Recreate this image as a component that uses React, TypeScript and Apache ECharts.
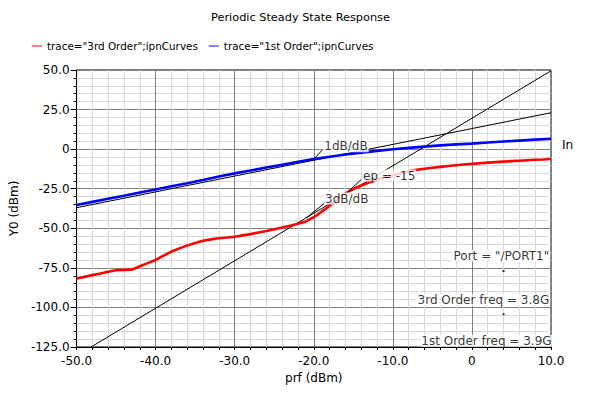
import React, { useEffect, useRef } from 'react';
import * as echarts from 'echarts';

const FONT = '"DejaVu Sans", sans-serif';

const TITLE = 'Periodic Steady State Response';
const X_NAME = 'prf (dBm)';
const Y_NAME = 'Y0 (dBm)';
const RED_NAME = 'trace="3rd Order";ipnCurves';
const BLUE_NAME = 'trace="1st Order";ipnCurves';
const SIDE_LABEL = 'In';

// 3rd order (red) curve
const redX = [
  -50, -49, -48, -47, -46, -45, -44, -43, -42, -41, -40, -39, -38, -37, -36, -35, -34, -33, -32, -31,
  -30, -29, -28, -27, -26, -25, -24, -23, -22, -21, -20, -19, -18, -17, -16, -15, -14, -13, -12, -11,
  -10, -9, -8, -7, -6, -5, -4, -3, -2, -1, 0, 1, 2, 3, 4, 5, 6, 7, 8, 9, 10,
];
const redY = [
  -81.7, -80.7, -79.6, -78.6, -77.5, -76.5, -76.3, -76.1, -74.0, -72.0, -70.0, -67.3, -64.7, -62.7, -60.8, -59.3, -57.9, -57.0, -56.3, -55.8,
  -55.3, -54.5, -53.7, -52.7, -51.7, -50.6, -49.5, -48.4, -47.2, -45.7, -43.0, -39.5, -35.8, -31.8, -28.0, -25.2, -23.0, -21.1, -19.4, -17.9,
  -16.5, -15.2, -14.0, -13.1, -12.4, -11.8, -11.2, -10.7, -10.2, -9.7, -9.3, -8.9, -8.5, -8.2, -7.9, -7.6, -7.3, -7.0, -6.7, -6.5, -6.2,
];

// 1st order (blue) curve
const blueX = [
  -50, -48, -46, -44, -42, -40, -38, -36, -34, -32, -30, -28, -26, -24, -22, -20, -18, -16, -14, -12,
  -10, -8, -6, -4, -2, 0, 2, 4, 6, 8, 10,
];
const blueY = [
  -35.3, -33.3, -31.3, -29.4, -27.4, -25.5, -23.5, -21.6, -19.5, -17.3, -15.3, -13.5, -11.6, -9.8, -8.0, -6.3, -4.8, -3.4, -2.2, -1.1,
  -0.1, 0.8, 1.6, 2.4, 3.0, 3.5, 4.2, 4.8, 5.4, 6.0, 6.6,
];

// extrapolation lines
const oneDbX = [-50, 10];
const oneDbY = [-37, 23];
const threeDbX = [-48.17, 10];
const threeDbY = [-125, 49.5];

// annotation labels and their leader lines
const noteTexts = ['1dB/dB', 'ep = -15', '3dB/dB'];
const noteX = [-18.8, -13.9, -18.7];
const noteY = [1.9, -16.7, -31.2];
const leaderX = [[-20, -18.9], [-15.7, -14.0], [-20.9, -18.6]];
const leaderY = [[-6.4, -0.4], [-27, -19.2], [-43.3, -33.9]];

// marker dots and info texts
const markerX = [4, 4];
const markerY = [-77, -104.3];
const infoTexts = ['Port = "/PORT1"', '3rd Order freq = 3.8G', '1st Order freq = 3.9G'];
const infoX = [9.9, 9.9, 10.2];
const infoY = [-67.4, -95.4, -121];

const zip = (xs: number[], ys: number[]) => xs.map((x, i) => [x, ys[i]]);
const fmt = (v: number) => (v === 0 ? '0' : v.toFixed(1));

export default function App() {
  const ref = useRef<HTMLDivElement>(null);

  useEffect(() => {
    if (!ref.current) return;
    const chart = echarts.init(ref.current, undefined, { renderer: 'svg' });

    const axisCommon = {
      type: 'value' as const,
      nameLocation: 'middle' as const,
      nameTextStyle: { color: '#000', fontSize: 12, fontFamily: FONT },
      axisLine: { show: true, onZero: false, lineStyle: { color: '#000', width: 1 } },
      splitLine: { show: true, lineStyle: { color: '#808080', width: 1 } },
      minorSplitLine: { show: true, lineStyle: { color: '#dadada', width: 1 } },
    };

    const leaderSeries = leaderX.map((lx, i) => ({
      type: 'line',
      data: zip(lx, leaderY[i]),
      symbol: 'none',
      silent: true,
      z: 4,
      lineStyle: { color: '#000', width: 1 },
    }));

    chart.setOption({
      animation: false,
      backgroundColor: '#fff',
      textStyle: { fontFamily: FONT },
      title: {
        text: TITLE,
        left: 'center',
        top: 7,
        textStyle: { fontSize: 11.3, fontWeight: 'normal', color: '#000', fontFamily: FONT },
      },
      legend: {
        left: 27,
        top: 36,
        itemWidth: 10,
        itemHeight: 1,
        itemGap: 11,
        icon: 'rect',
        data: [RED_NAME, BLUE_NAME],
        textStyle: { fontSize: 10.4, color: '#000', fontFamily: FONT },
      },
      grid: {
        left: 73,
        right: 50,
        top: 70,
        bottom: 47,
        show: true,
        borderColor: '#000',
        borderWidth: 1,
        backgroundColor: '#fff',
      },
      xAxis: {
        ...axisCommon,
        min: -50,
        max: 10,
        interval: 10,
        name: X_NAME,
        nameGap: 21,
        axisTick: { show: true, length: 3, lineStyle: { color: '#000' } },
        minorTick: { show: true, splitNumber: 5, length: 3, lineStyle: { color: '#000' } },
        axisLabel: { formatter: fmt, color: '#000', fontSize: 12, margin: 8, fontFamily: FONT },
      },
      yAxis: {
        ...axisCommon,
        min: -125,
        max: 50,
        interval: 25,
        name: Y_NAME,
        nameGap: 42,
        axisTick: { show: true, length: 6, lineStyle: { color: '#000' } },
        minorTick: { show: true, splitNumber: 5, length: 3, lineStyle: { color: '#000' } },
        axisLabel: { formatter: fmt, color: '#000', fontSize: 12, margin: 7, fontFamily: FONT },
      },
      series: [
        {
          type: 'line',
          data: zip(oneDbX, oneDbY),
          symbol: 'none',
          silent: true,
          z: 2,
          lineStyle: { color: '#000', width: 1 },
        },
        {
          type: 'line',
          data: zip(threeDbX, threeDbY),
          symbol: 'none',
          silent: true,
          z: 2,
          lineStyle: { color: '#000', width: 1 },
        },
        {
          name: RED_NAME,
          type: 'line',
          data: zip(redX, redY),
          symbol: 'none',
          z: 3,
          color: '#ff0000',
          lineStyle: { color: '#ff0000', width: 2.6 },
        },
        {
          name: BLUE_NAME,
          type: 'line',
          data: zip(blueX, blueY),
          symbol: 'none',
          z: 3,
          color: '#0000ff',
          lineStyle: { color: '#0000ff', width: 2.6 },
        },
        ...leaderSeries,
        {
          type: 'scatter',
          data: noteTexts.map((t, i) => ({ value: [noteX[i], noteY[i]], name: t })),
          symbolSize: 0,
          silent: true,
          z: 6,
          label: {
            show: true,
            position: 'right',
            distance: 0,
            formatter: (p: any) => p.name,
            color: '#000',
            fontSize: 12,
            fontFamily: FONT,
            backgroundColor: '#fff',
            padding: [0, 1, 0, 1],
          },
        },
        {
          type: 'scatter',
          data: zip(markerX, markerY),
          symbol: 'rect',
          symbolSize: 2,
          silent: true,
          z: 6,
          itemStyle: { color: '#000' },
        },
        {
          type: 'scatter',
          clip: false,
          data: infoTexts.map((t, i) => ({ value: [infoX[i], infoY[i]], name: t })),
          symbolSize: 0,
          silent: true,
          z: 6,
          label: {
            show: true,
            position: 'left',
            distance: 0,
            formatter: (p: any) => p.name,
            color: '#000',
            fontSize: 12,
            fontFamily: FONT,
            backgroundColor: '#fff',
            padding: [0, 1, 0, 1],
          },
        },
      ],
      graphic: [
        {
          type: 'text',
          left: 562,
          top: 139,
          style: { text: SIDE_LABEL, fill: '#000', fontSize: 12, fontFamily: FONT },
        },
      ],
    });

    return () => chart.dispose();
  }, []);

  return <div ref={ref} style={{ position: 'fixed', left: 0, top: 0, width: 601, height: 394 }} />;
}
